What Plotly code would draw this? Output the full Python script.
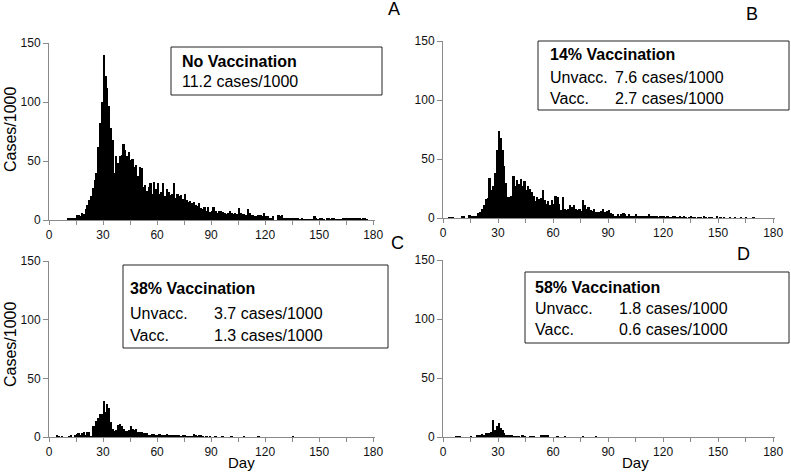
import plotly.graph_objects as go

W, H = 791, 473

days = list(range(180))

cases_a = [
    0, 0, 0, 0, 0, 0, 0, 0, 0, 0,
    1, 1, 1, 2, 1, 4, 4, 3, 6, 5,
    9, 13, 17, 20, 27, 34, 40, 62, 82, 100,
    140, 122, 112, 97, 78, 68, 40, 54, 48, 54,
    55, 64, 59, 54, 58, 51, 52, 45, 47, 37,
    45, 44, 28, 30, 25, 28, 31, 22, 32, 26,
    31, 22, 24, 31, 20, 26, 24, 21, 22, 31,
    19, 22, 20, 21, 18, 22, 17, 15, 16, 14,
    15, 13, 12, 14, 10, 9, 11, 8, 11, 7,
    8, 11, 8, 6, 8, 8, 7, 6, 5, 6,
    8, 6, 5, 6, 5, 10, 6, 5, 5, 4,
    9, 6, 4, 4, 3, 3, 4, 4, 3, 6,
    3, 3, 2, 2, 3, 0, 0, 4, 3, 4,
    2, 2, 1, 2, 1, 2, 1, 1, 2, 0.5,
    1, 0.5, 0.5, 0.5, 0.5, 0.5, 0.5, 3, 1, 0.5,
    1, 1, 0.5, 0, 1, 2, 0.5, 1, 1, 0.5,
    0.5, 0.5, 0.5, 2, 1, 1, 2, 2, 1, 2,
    1, 2, 1, 0.5, 2, 1, 0.5, 0, 0, 0,
]

cases_b = [
    0, 0, 0, 0.5, 0.5, 0.5, 0, 0, 0, 0,
    1.5, 1, 0, 0, 2.5, 1, 1, 1, 1.5, 4,
    5, 8, 11, 16, 17, 34, 24, 27, 38, 58,
    74, 68, 58, 44, 30, 18, 18, 19, 36, 27,
    32, 29, 33, 27, 31, 24, 27, 25, 22, 19,
    14, 18, 16, 17, 24, 15, 12, 14, 11, 15,
    12, 19, 18, 12, 7, 18, 8, 7, 8, 11,
    9, 11, 8, 7, 8, 6, 15, 11, 8, 9,
    7, 6, 8, 5, 5, 5, 6, 8, 5, 6,
    7, 4, 3, 2, 1, 3, 2, 3, 4, 3,
    2, 3, 2, 1, 2, 3, 2, 1, 1, 2,
    2, 1, 3, 1, 1, 2, 1, 0.5, 1, 1,
    2, 0.5, 1, 0.5, 0.5, 1, 2, 0.5, 0.5, 1,
    0.5, 1, 0.5, 0, 0.5, 1, 0.5, 0.5, 0, 0.5,
    0.5, 0, 1, 0.5, 0, 0.5, 0.5, 0, 0, 1,
    0, 0.5, 0, 0.5, 0, 0, 0.5, 0, 0, 0.5,
    0, 0, 0.5, 0, 0, 0.5, 0, 0, 0, 0.5,
    0, 0, 0, 0, 0, 0, 0, 0, 0, 0,
]

cases_c = [
    0, 0, 0, 0, 1, 0.5, 0, 0.5, 0, 0,
    0, 0.5, 1, 0, 2, 2.5, 3, 1.5, 3.5, 4,
    2, 4.5, 4.5, 0.5, 9, 9, 14, 16, 20, 20,
    31, 21, 28, 25, 13, 7, 5, 6, 10, 11,
    9, 7, 5, 5, 6, 9, 7, 6, 7, 4.5,
    4, 4, 3, 3, 3, 2, 2, 2.5, 2.5, 2,
    1.5, 2.5, 2, 1, 1, 2.5, 2, 1, 1, 2,
    1.5, 1, 1, 0.5, 1.5, 1.5, 0.5, 0.5, 0.5, 0.5,
    2.5, 2, 0.5, 1.5, 1, 0.5, 0, 0.5, 0, 0.5,
    0, 0, 0.5, 0, 0, 0, 0.5, 0, 0, 0,
    0, 0.5, 0, 0, 0, 0, 0, 0, 0.5, 0,
    0, 0, 0, 0, 0, 0, 0.5, 0, 0, 0,
    0, 0, 0, 0, 0, 0, 0, 0, 0, 0,
    0, 0, 0, 0, 0, 0.5, 0, 0, 0, 0,
    0, 0, 0, 0, 0, 0, 0, 0, 0, 0,
    0, 0, 0, 0, 0, 0, 0, 0, 0, 0,
    0, 0, 0, 0, 0, 0, 0, 0, 0, 0,
    0, 0, 0, 0, 0, 0, 0, 0, 0, 0,
]

cases_d = [
    0, 0, 0, 0, 0, 0, 0, 0.3, 0.3, 0.3,
    0, 0, 0, 0, 0, 0.3, 0, 0, 1, 1,
    2, 2.5, 1, 3, 3, 3.5, 4, 14, 6, 9,
    12, 7.5, 6, 3, 2, 1.5, 1, 1, 0.5, 0.5,
    0.5, 0.5, 0, 1, 0.5, 0, 0, 0.5, 0.5, 0.5,
    0, 0, 0, 1.5, 1.5, 1, 1.5, 1, 0, 0,
    0, 0, 0.5, 0, 0, 0, 0.5, 0, 0, 0,
    0, 0, 0, 0, 0, 0, 0.5, 0, 0, 0,
    0, 0, 0, 0.5, 0, 0, 0, 0, 0, 0,
] + [0] * 90

x_tickvals = list(range(0, 181, 15))
x_ticktext = ["0", "", "30", "", "60", "", "90", "", "120", "", "150", "", "180"]
y_tickvals = [0, 50, 100, 150]

panel_titles = ["No Vaccination", "14% Vaccination", "38% Vaccination", "58% Vaccination"]
panel_letters = ["A", "B", "C", "D"]
unvacc_text = ["11.2 cases/1000", "7.6 cases/1000", "3.7 cases/1000", "1.8 cases/1000"]
vacc_text = [None, "2.7 cases/1000", "1.3 cases/1000", "0.6 cases/1000"]

FONT = "Liberation Sans, Arial, Helvetica, sans-serif"
AXCOL = "#8a8a8a"


def px(x):
    return x / W


def py(y):
    return 1 - y / H


fig = go.Figure()
series = [cases_a, cases_b, cases_c, cases_d]
for i, vals in enumerate(series):
    sfx = "" if i == 0 else str(i + 1)
    fig.add_trace(go.Bar(
        x=days, y=vals, offset=0, width=1,
        marker=dict(color="black", line=dict(width=0)),
        xaxis="x" + sfx, yaxis="y" + sfx, showlegend=False,
    ))

# panel geometry (pixels): x0, x1 for 0..180 ; ybottom (0), ytop (150)
geom = [
    (49, 375, 220, 43),
    (443, 775, 218, 41),
    (49, 375, 437, 261),
    (443, 775, 437, 260),
]

layout = dict(
    width=W, height=H, autosize=False,
    margin=dict(l=0, r=0, t=0, b=0, pad=0),
    paper_bgcolor="white", plot_bgcolor="white",
    bargap=0, barmode="overlay",
    font=dict(family=FONT, color="black", size=12),
)
for i, (x0, x1, yb, yt) in enumerate(geom):
    sfx = "" if i == 0 else str(i + 1)
    layout["xaxis" + sfx] = dict(
        domain=[px(x0), px(x1)], anchor="y" + sfx, range=[0, 181],
        tickmode="array", tickvals=x_tickvals, ticktext=x_ticktext,
        ticks="outside", ticklen=4, tickcolor=AXCOL, tickwidth=1,
        showline=True, linecolor=AXCOL, linewidth=1,
        showgrid=False, zeroline=False, fixedrange=True, automargin=False,
        tickfont=dict(family=FONT, size=12, color="#111"),
    )
    layout["yaxis" + sfx] = dict(
        domain=[py(yb), py(yt)], anchor="x" + sfx, range=[0, 150],
        tickmode="array", tickvals=y_tickvals,
        ticks="outside", ticklen=5, tickcolor=AXCOL, tickwidth=1,
        showline=True, linecolor=AXCOL, linewidth=1,
        showgrid=False, zeroline=False, fixedrange=True, automargin=False,
        tickfont=dict(family=FONT, size=12, color="#111"),
    )
fig.update_layout(**layout)

# text boxes: (x0, x1, y0, y1, text-left, col2-left, line ys)
boxes = [
    (171, 382, 47, 95, 180, None, [61, 82]),
    (538, 789, 41, 110, 548, 613, [55, 77, 98]),
    (123, 388, 265, 348, 128, 212, [288, 313, 335]),
    (525, 789, 272, 343, 533, 617, [287, 308, 329]),
]
shapes = []
ann = []
BOXFONT = 16
for i, (bx0, bx1, by0, by1, tx, cx, ys) in enumerate(boxes):
    shapes.append(dict(type="rect", xref="paper", yref="paper",
                       x0=px(bx0), x1=px(bx1), y0=py(by1), y1=py(by0),
                       line=dict(color="#222", width=1), fillcolor="white", layer="above"))
    ann.append(dict(x=px(tx), y=py(ys[0]), xref="paper", yref="paper",
                    xanchor="left", yanchor="middle", showarrow=False,
                    text="<b>" + panel_titles[i] + "</b>",
                    font=dict(family=FONT, size=BOXFONT, color="black")))
    if vacc_text[i] is None:
        ann.append(dict(x=px(tx), y=py(ys[1]), xref="paper", yref="paper",
                        xanchor="left", yanchor="middle", showarrow=False,
                        text=unvacc_text[i],
                        font=dict(family=FONT, size=BOXFONT, color="black")))
    else:
        for lbl, val, yy in (("Unvacc.", unvacc_text[i], ys[1]), ("Vacc.", vacc_text[i], ys[2])):
            ann.append(dict(x=px(tx), y=py(yy), xref="paper", yref="paper",
                            xanchor="left", yanchor="middle", showarrow=False,
                            text=lbl, font=dict(family=FONT, size=BOXFONT, color="black")))
            ann.append(dict(x=px(cx), y=py(yy), xref="paper", yref="paper",
                            xanchor="left", yanchor="middle", showarrow=False,
                            text=val, font=dict(family=FONT, size=BOXFONT, color="black")))

letter_pos = [(394, 9), (752, 14), (397, 243), (743, 254)]
for L, (lx, ly) in zip(panel_letters, letter_pos):
    ann.append(dict(x=px(lx), y=py(ly), xref="paper", yref="paper",
                    xanchor="center", yanchor="middle", showarrow=False,
                    text=L, font=dict(family=FONT, size=18, color="black")))

for (dx, dy) in [(241, 462), (635, 462)]:
    ann.append(dict(x=px(dx), y=py(dy), xref="paper", yref="paper",
                    xanchor="center", yanchor="middle", showarrow=False,
                    text="Day", font=dict(family=FONT, size=15, color="black")))

for (cx_, cy_) in [(10, 130), (10, 345)]:
    ann.append(dict(x=px(cx_), y=py(cy_), xref="paper", yref="paper",
                    xanchor="center", yanchor="middle", showarrow=False, textangle=-90,
                    text="Cases/1000", font=dict(family=FONT, size=16, color="black")))

fig.update_layout(shapes=shapes, annotations=ann)

fig.write_html(
    "out.html",
    config={"displayModeBar": False, "responsive": False},
    post_script="document.documentElement.style.margin='0';document.body.style.margin='0';document.body.style.padding='0';document.body.style.overflow='hidden';",
)
